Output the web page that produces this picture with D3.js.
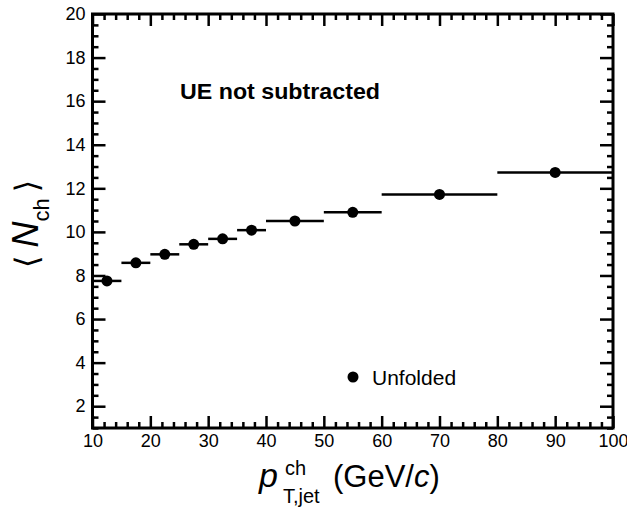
<!DOCTYPE html>
<meta charset="utf-8">
<style>
body { margin: 0; background: #fff; }
svg { display: block; font-family: "Liberation Sans", Arial, Helvetica, sans-serif; }
.tick line { stroke: #000; stroke-width: 2.5px; }
.tick text { font-size: 18px; fill: #000; }
.domain { display: none; }
.frame { fill: none; stroke: #000; stroke-width: 3px; }
.bin { stroke: #000; stroke-width: 2.5px; }
</style>
<svg width="627" height="507"></svg>
<script src="https://d3js.org/d3.v7.min.js"></script>
<script>

// jet pT bins (GeV/c) and mean charged multiplicity, UE not subtracted
var binLow  = [10, 15, 20, 25, 30, 35, 40, 50, 60, 80];
var binHigh = [15, 20, 25, 30, 35, 40, 50, 60, 80, 100];
var meanNch = [7.75, 8.58, 8.97, 9.43, 9.68, 10.08, 10.5, 10.9, 11.72, 12.73];

var xMajor = [10, 20, 30, 40, 50, 60, 70, 80, 90, 100];
var yMajor = [2, 4, 6, 8, 10, 12, 14, 16, 18, 20];

var svg = d3.select("svg");

var x = d3.scaleLinear().domain([10, 100]).range([92.5, 613]);
var y = d3.scaleLinear().domain([1, 20]).range([428, 14]);

var xMinor = d3.range(10, 100.01, 2).filter(v => v % 10 !== 0);
var yMinor = d3.range(1, 20.01, 0.5).filter(v => v % 2 !== 0);

// bottom + top
svg.append("g").attr("transform", "translate(0,428)")
    .call(d3.axisBottom(x).tickValues(xMajor).tickSize(-12).tickPadding(6));
svg.append("g").attr("transform", "translate(0,428)")
    .call(d3.axisBottom(x).tickValues(xMinor).tickSize(-6).tickFormat(""));
svg.append("g").attr("transform", "translate(0,14)")
    .call(d3.axisTop(x).tickValues(xMajor).tickSize(-12).tickFormat(""));
svg.append("g").attr("transform", "translate(0,14)")
    .call(d3.axisTop(x).tickValues(xMinor).tickSize(-6).tickFormat(""));

// left + right
svg.append("g").attr("transform", "translate(92.5,0)")
    .call(d3.axisLeft(y).tickValues(yMajor).tickSize(-13).tickPadding(7));
svg.append("g").attr("transform", "translate(92.5,0)")
    .call(d3.axisLeft(y).tickValues(yMinor).tickSize(-6).tickFormat(""));
svg.append("g").attr("transform", "translate(613,0)")
    .call(d3.axisRight(y).tickValues(yMajor).tickSize(-13).tickFormat(""));
svg.append("g").attr("transform", "translate(613,0)")
    .call(d3.axisRight(y).tickValues(yMinor).tickSize(-6).tickFormat(""));

svg.append("rect").attr("class", "frame")
    .attr("x", 92.5).attr("y", 14)
    .attr("width", 613 - 92.5).attr("height", 428 - 14);

var pts = meanNch.map((v, i) => ({lo: binLow[i], hi: binHigh[i], v: v}));

svg.append("g").selectAll("line").data(pts).enter().append("line")
    .attr("class", "bin")
    .attr("x1", d => x(d.lo)).attr("x2", d => x(d.hi))
    .attr("y1", d => y(d.v)).attr("y2", d => y(d.v));

svg.append("g").selectAll("circle").data(pts).enter().append("circle")
    .attr("cx", d => x((d.lo + d.hi) / 2))
    .attr("cy", d => y(d.v))
    .attr("r", 5.5)
    .attr("fill", "#000");

// labels
svg.append("text")
    .attr("x", 180).attr("y", 99)
    .style("font-weight", "bold").style("font-size", "22px")
    .attr("textLength", 200).attr("lengthAdjust", "spacingAndGlyphs")
    .text("UE not subtracted");

svg.append("circle").attr("cx", 353).attr("cy", 377).attr("r", 5.5).attr("fill", "#000");
svg.append("text").attr("x", 372).attr("y", 385)
    .style("font-size", "21px").text("Unfolded");

var xl = svg.append("text").attr("x", 259).attr("y", 487).style("font-size", "31px");
xl.append("tspan").style("font-style", "italic").style("font-size", "34px").text("p");
xl.append("tspan").attr("x", 285).attr("y", 475).style("font-size", "20px").text("ch");
xl.append("tspan").attr("x", 283).attr("y", 503).style("font-size", "20px").text("T,jet");
xl.append("tspan").attr("x", 333).attr("y", 487).text("(GeV/");
xl.append("tspan").style("font-style", "italic").text("c");
xl.append("tspan").text(")");

var yl = svg.append("text")
    .attr("transform", "translate(38,268) rotate(-90)")
    .style("font-size", "36px");
yl.append("tspan").attr("font-family", "DejaVu Sans").style("font-size", "32px").text("\u27E8");
yl.append("tspan").attr("dx", 8).style("font-style", "italic").text("N");
yl.append("tspan").attr("dy", 11).style("font-size", "22px").text("ch");
yl.append("tspan").attr("dy", -11).attr("dx", 6).attr("font-family", "DejaVu Sans").style("font-size", "32px").text("\u27E9");

</script>
